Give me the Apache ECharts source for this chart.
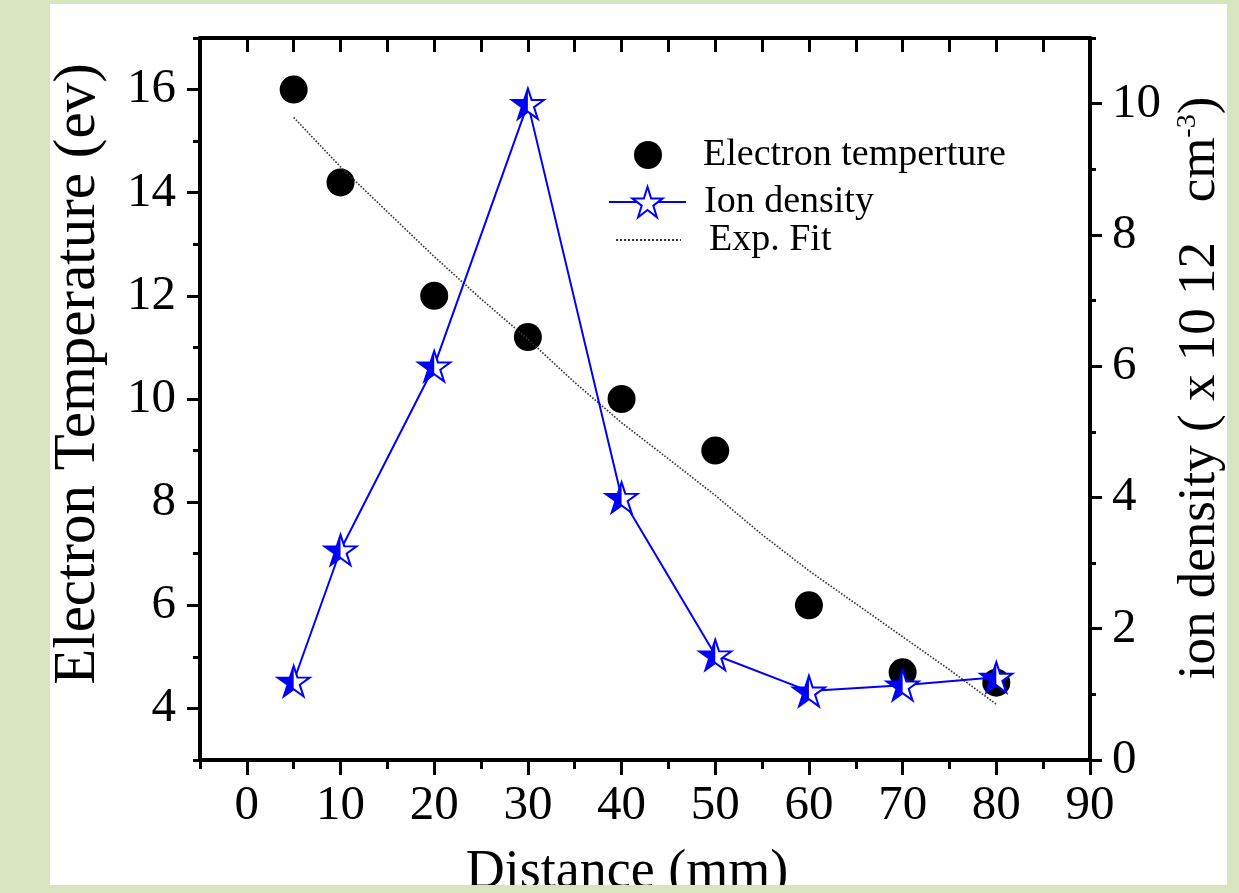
<!DOCTYPE html>
<html lang="en">
<head>
    <meta charset="UTF-8">
    <title>Electron temperature and ion density</title>
    <script src="https://cdn.jsdelivr.net/npm/echarts@6.0.0/dist/echarts.min.js"></script>
    <style>
        html, body {
            margin: 0;
            padding: 0;
        }

        #main {
            width: 1239px;
            height: 893px;
        }
    </style>
</head>
<body>
<div id="main"></div>
<script>
    // measured points
    var distance = [5, 10, 20, 30, 40, 50, 60, 70, 80];
    var electronTemp = [16.0, 14.2, 12.0, 11.2, 10.0, 9.0, 6.0, 4.7, 4.5];
    var ionDensity = [1.2, 3.2, 6.0, 10.0, 4.0, 1.6, 1.05, 1.14, 1.26];

    // exponential fit curve
    var fitX = [5, 10, 15, 20, 25, 30, 35, 40, 45, 50, 55, 60, 65, 70, 75, 80];
    var fitY = [15.46, 14.5, 13.63, 12.76, 11.94, 11.16, 10.32, 9.54, 8.84, 8.13, 7.37, 6.67, 6.03, 5.39, 4.75, 4.08];

    var xMajor = [0, 10, 20, 30, 40, 50, 60, 70, 80, 90];
    var leftMajor = [4, 6, 8, 10, 12, 14, 16];
    var rightMajor = [0, 2, 4, 6, 8, 10];

    var FONT = '"Liberation Serif", "Times New Roman", serif';
    var GREEN = '#d7e4bd';
    var BLUE = '#0000ff';

    // five point star and its left half (same height, half width)
    var STAR = 'path://M50 0L61.2 34.55L97.55 34.55L68.15 55.9L79.4 90.45L50 69.1L20.6 90.45L31.85 55.9L2.45 34.55L38.8 34.55Z';
    var HALF_STAR = 'path://M50 0L50 69.1L20.6 90.45L31.85 55.9L2.45 34.55L38.8 34.55Z';
    var starW = 32, starH = 30.4;

    function pairs(xs, ys) {
        return xs.map(function (x, i) {
            return [x, ys[i]];
        });
    }

    var myChart = echarts.init(document.getElementById('main'));

    var axisLineStyle = {color: '#000', width: 4};
    var tickStyle = {color: '#000', width: 3};
    var legendText = {fontFamily: FONT, fontSize: 38, color: '#000', lineHeight: 38};

    var option = {
        backgroundColor: GREEN,
        animation: false,
        textStyle: {fontFamily: FONT, color: '#000'},
        graphic: [
            {type: 'rect', z: -10, shape: {x: 50, y: 4, width: 1177, height: 881}, style: {fill: '#fff'}},
            {type: 'rect', z: 100, shape: {x: 0, y: 885, width: 1239, height: 8}, style: {fill: GREEN}}
        ],
        grid: {left: 200, right: 149, top: 38, bottom: 133, containLabel: false, outerBoundsMode: 'none'},
        legend: [
            {
                data: ['Electron temperture'], left: 634, top: 136, padding: 0,
                itemWidth: 28, itemHeight: 28, selectedMode: false,
                textStyle: Object.assign({padding: [0, 0, 0, 36]}, legendText)
            },
            {
                data: ['Ion density'], left: 608, top: 183, padding: 0,
                itemWidth: 77, itemHeight: 38, selectedMode: false,
                textStyle: Object.assign({padding: [0, 0, 0, 13]}, legendText)
            },
            {
                data: [{name: 'Exp. Fit', itemStyle: {opacity: 0}}], left: 615, top: 221, padding: 0,
                itemWidth: 65, itemHeight: 38, selectedMode: false,
                textStyle: Object.assign({padding: [0, 0, 0, 23]}, legendText)
            }
        ],
        xAxis: [
            {
                type: 'value', position: 'bottom', min: -5, max: 90, interval: 5,
                name: 'Distance (mm)', nameLocation: 'middle', nameGap: 86,
                nameTextStyle: {fontFamily: FONT, fontSize: 54, color: '#000', padding: [0, 36, 0, 0]},
                axisLine: {onZero: false, lineStyle: axisLineStyle},
                axisTick: {length: 15, lineStyle: tickStyle, customValues: xMajor},
                axisLabel: {customValues: xMajor, fontFamily: FONT, fontSize: 49, color: '#000', margin: 22},
                splitLine: {show: false}
            },
            {
                type: 'value', position: 'bottom', min: -5, max: 90, interval: 5,
                axisLine: {show: false, onZero: false},
                axisTick: {length: 9, lineStyle: tickStyle},
                axisLabel: {show: false},
                splitLine: {show: false}
            },
            {
                type: 'value', position: 'top', min: -5, max: 90, interval: 5,
                axisLine: {onZero: false, lineStyle: axisLineStyle},
                axisTick: {inside: true, length: 14, lineStyle: tickStyle},
                axisLabel: {show: false},
                splitLine: {show: false}
            }
        ],
        yAxis: [
            {
                type: 'value', position: 'left', min: 3, max: 17, interval: 1,
                name: 'Electron Temperature (ev)', nameLocation: 'middle', nameGap: 92,
                nameTextStyle: {fontFamily: FONT, fontSize: 59, color: '#000', padding: [0, 0, 0, 50]},
                axisLine: {onZero: false, lineStyle: axisLineStyle},
                axisTick: {length: 13, lineStyle: tickStyle, customValues: leftMajor},
                axisLabel: {customValues: leftMajor, fontFamily: FONT, fontSize: 49, color: '#000', margin: 24},
                splitLine: {show: false}
            },
            {
                type: 'value', position: 'left', min: 3, max: 17, interval: 1,
                axisLine: {show: false, onZero: false},
                axisTick: {length: 7, lineStyle: tickStyle},
                axisLabel: {show: false},
                splitLine: {show: false}
            },
            {
                type: 'value', position: 'right', min: 0, max: 11, interval: 1,
                name: 'ion density ( x 10 12   cm{sup|-3})', nameLocation: 'middle', nameGap: 84,
                nameTextStyle: {
                    fontFamily: FONT, fontSize: 53, color: '#000', padding: [0, 0, 0, 22],
                    rich: {sup: {fontFamily: FONT, fontSize: 28, color: '#000', verticalAlign: 'top'}}
                },
                axisLine: {onZero: false, lineStyle: axisLineStyle},
                axisTick: {length: 12, lineStyle: tickStyle, customValues: rightMajor},
                axisLabel: {customValues: rightMajor, fontFamily: FONT, fontSize: 49, color: '#000', margin: 22},
                splitLine: {show: false}
            },
            {
                type: 'value', position: 'right', min: 0, max: 11, interval: 1,
                axisLine: {show: false, onZero: false},
                axisTick: {length: 6, lineStyle: tickStyle},
                axisLabel: {show: false},
                splitLine: {show: false}
            }
        ],
        series: [
            {
                name: 'Electron temperture',
                type: 'scatter',
                xAxisIndex: 0, yAxisIndex: 0,
                symbol: 'circle', symbolSize: 28,
                itemStyle: {color: '#000', opacity: 1},
                z: 2,
                data: pairs(distance, electronTemp)
            },
            {
                name: 'Exp. Fit',
                type: 'line',
                xAxisIndex: 0, yAxisIndex: 0,
                symbol: 'none',
                lineStyle: {color: '#333', width: 1.6, type: 'dotted'},
                z: 3,
                data: pairs(fitX, fitY)
            },
            {
                name: 'Ion density',
                type: 'line',
                xAxisIndex: 0, yAxisIndex: 2,
                symbol: STAR, symbolSize: [starW, starH],
                lineStyle: {color: BLUE, width: 2},
                itemStyle: {color: '#fff', borderColor: BLUE, borderWidth: 2, opacity: 1},
                z: 4,
                data: pairs(distance, ionDensity)
            },
            {
                name: 'ionHalf',
                type: 'scatter',
                xAxisIndex: 0, yAxisIndex: 2,
                symbol: HALF_STAR, symbolSize: [starW / 2, starH], symbolOffset: [-starW / 4, 0],
                itemStyle: {color: BLUE, opacity: 1},
                z: 5,
                silent: true,
                data: pairs(distance, ionDensity)
            }
        ]
    };

    myChart.setOption(option);
</script>
</body>
</html>
